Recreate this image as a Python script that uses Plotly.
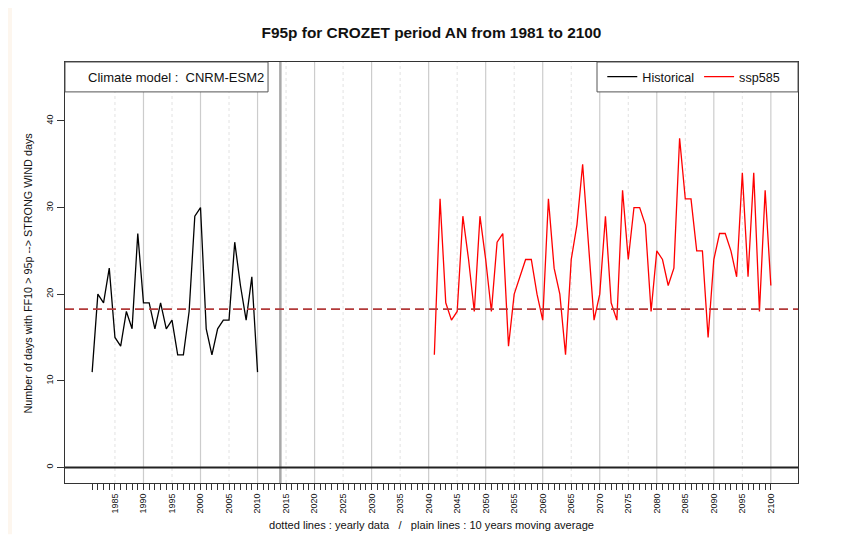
"""
F95p for CROZET : historical + ssp585 series (CNRM-ESM2)
"""
from plotly.graph_objects import Scatter, Figure

# donnees
hist_years = list(range(1981, 2011))
hist_values = [11, 20, 19, 23, 15, 14, 18, 16, 27, 19,
               19, 16, 19, 16, 17, 13, 13, 18, 29, 30,
               16, 13, 16, 17, 17, 26, 21, 17, 22, 11]

ssp_years = list(range(2041, 2101))
ssp_values = [13, 31, 19, 17, 18, 29, 24, 18, 29, 24,
              18, 26, 27, 14, 20, 22, 24, 24, 20, 17,
              31, 23, 20, 13, 24, 28, 35, 26, 17, 20,
              29, 19, 17, 32, 24, 30, 30, 28, 18, 25,
              24, 21, 23, 38, 31, 31, 25, 25, 15, 24,
              27, 27, 25, 22, 34, 22, 34, 18, 32, 21]

y_ticks = [0, 10, 20, 30, 40]
x_ticks = list(range(1981, 2101))
x_ticktext = [str(a) if a % 5 == 0 else "" for a in x_ticks]
end_of_obs = 2014

FONT = "Liberation Sans, Arial, sans-serif"


def main():
    hist_mean = sum(hist_values) / len(hist_values)

    fig = Figure()

    # grille verticale : pointillés tous les 5 ans, traits pleins tous les 10 ans
    for a in range(1985, 2101, 5):
        if a % 10 == 0:
            fig.add_vline(x=a, line_color="#CCCCCC", line_width=1.2, layer="below")
        else:
            fig.add_vline(x=a, line_color="#E2E2E2", line_width=1, line_dash="dot", layer="below")
    fig.add_vline(x=end_of_obs, line_color="#A8A8A8", line_width=2.5, layer="below")

    fig.add_hline(y=0, line_color="#222222", line_width=2)
    fig.add_hline(y=hist_mean, line_color="#B23A3A", line_width=1.6, line_dash="9px,5px")

    fig.add_trace(Scatter(x=hist_years, y=hist_values, mode="lines", name="Historical",
                          line=dict(color="black", width=1.3)))
    fig.add_trace(Scatter(x=ssp_years, y=ssp_values, mode="lines", name="ssp585",
                          line=dict(color="#FF0000", width=1.3)))

    # cadres des légendes
    fig.add_shape(type="rect", xref="paper", yref="paper", x0=0.0, x1=0.277, y0=0.929, y1=1,
                  line=dict(color="#555555", width=1), fillcolor="white")
    fig.add_shape(type="rect", xref="paper", yref="paper", x0=0.7258, x1=1, y0=0.929, y1=1,
                  line=dict(color="#555555", width=1), fillcolor="white")
    fig.add_annotation(text="Climate model :  CNRM-ESM2", xref="paper", yref="paper",
                       x=0.151, y=0.964, xanchor="center", yanchor="middle",
                       showarrow=False, font=dict(size=13, color="#111111"))

    # bande de fond à gauche
    fig.add_shape(type="rect", xref="paper", yref="paper", x0=-0.0778, x1=-0.0723,
                  y0=-0.122, y1=1.13, line_width=0, fillcolor="#FDF6EE", layer="below")

    fig.add_annotation(text="Number of days with FF10 > 95p --> STRONG WIND days",
                       xref="paper", yref="paper", x=-0.0505, y=0.5, textangle=-90,
                       xanchor="center", yanchor="middle",
                       showarrow=False, font=dict(size=10.8, color="#111111"))
    fig.add_annotation(text="dotted lines : yearly data   /   plain lines : 10 years moving average",
                       xref="paper", yref="paper", x=0.5, y=-0.1, xanchor="center",
                       yanchor="middle", showarrow=False,
                       font=dict(size=11.1, color="#111111"))

    fig.update_layout(
        width=834, height=528,
        margin=dict(l=57, r=44, t=54, b=53),
        paper_bgcolor="white", plot_bgcolor="white",
        font=dict(family=FONT, color="#111111"),
        title=dict(text="<b>F95p for CROZET period AN from 1981 to 2100</b>",
                   x=0.5, xref="paper", y=1 - 25 / 528, yanchor="middle",
                   font=dict(size=15.4, color="#111111")),
        showlegend=True,
        legend=dict(orientation="h", x=0.733, y=0.9645, xanchor="left", yanchor="middle",
                    bgcolor="rgba(0,0,0,0)", borderwidth=0, font=dict(size=12.6),
                    itemwidth=30),
        xaxis=dict(range=[1976.24, 2104.76], tickvals=x_ticks, ticktext=x_ticktext,
                   tickangle=-90, ticks="outside", ticklen=6, tickcolor="#333333",
                   tickfont=dict(size=9), showgrid=False, zeroline=False,
                   showline=True, mirror=True, linecolor="#333333", linewidth=1),
        yaxis=dict(range=[-1.8, 46.8], tickvals=y_ticks, tickangle=-90,
                   ticks="outside", ticklen=7, tickcolor="#333333",
                   tickfont=dict(size=9), showgrid=False, zeroline=False,
                   showline=True, mirror=True, linecolor="#333333", linewidth=1),
    )

    fig.write_html("out.html")


if __name__ == "__main__":
    main()
